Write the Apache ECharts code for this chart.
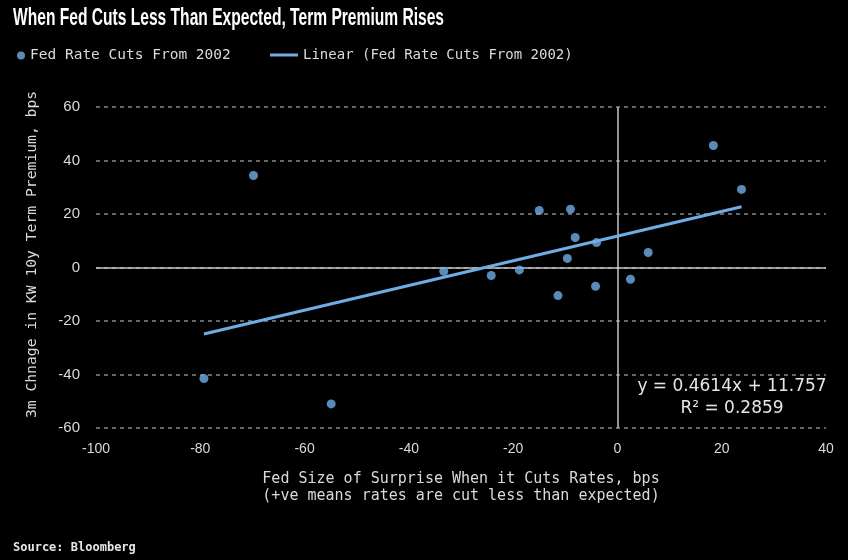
<!DOCTYPE html>
<html>
<head>
<meta charset="utf-8">
<script src="https://cdn.jsdelivr.net/npm/echarts@6/dist/echarts.min.js"></script>
<style>html,body{margin:0;padding:0;background:#000;}#c{width:848px;height:560px;}</style>
</head>
<body>
<div id="c"></div>
<script>
// ---- data ----
const surpriseX = [-79.3, -69.8, -54.9, -33.3, -24.2, -18.8, -15.0, -11.4, -9.6, -9.0, -8.1, -4.2, -4.0, 2.5, 5.9, 18.4, 23.8];
const premiumY  = [-41.5, 34.4, -51.0, -1.4, -3.0, -0.9, 21.3, -10.5, 3.4, 21.8, 11.2, -7.0, 9.3, -4.4, 5.6, 45.6, 29.2];
const trendSlope = 0.4614;
const trendIntercept = 11.757;
const trendR2 = 0.2859;
const xTicks = [-100, -80, -60, -40, -20, 0, 20, 40];
const yTicks = [-60, -40, -20, 0, 20, 40, 60];

const titleText = 'When Fed Cuts Less Than Expected, Term Premium Rises';
const seriesName = 'Fed Rate Cuts From 2002';
const trendName = 'Linear (Fed Rate Cuts From 2002)';
const xName = 'Fed Size of Surprise When it Cuts Rates, bps\n(+ve means rates are cut less than expected)';
const yName = '3m Chnage in KW 10y Term Premium, bps';
const sourceText = 'Source: Bloomberg';

const points = surpriseX.map((x, i) => [x, premiumY[i]]);
const xMinD = Math.min(...surpriseX), xMaxD = Math.max(...surpriseX);
const trend = [[xMinD, trendSlope * xMinD + trendIntercept], [xMaxD, trendSlope * xMaxD + trendIntercept]];

// measure title for condensed look
const cv = document.createElement('canvas').getContext('2d');
cv.font = 'bold 24px "Liberation Sans"';
const titleW = cv.measureText(titleText).width;
const titleScale = 431 / titleW;

const blue = '#70ade6';
const txt = '#dadada';
const mono = '"DejaVu Sans Mono", monospace';

const chart = echarts.init(document.getElementById('c'), null, {renderer: 'canvas'});
chart.setOption({
  backgroundColor: '#000',
  animation: false,
  grid: {left: 96, right: 22, top: 107, bottom: 132},
  legend: [
    {left: 17, top: 48, padding: 0, itemWidth: 8, itemHeight: 8,
     data: [{name: seriesName, icon: 'circle'}],
     textStyle: {color: txt, fontFamily: mono, fontSize: 14.5}},
    {left: 270, top: 48, padding: 0, itemWidth: 28, itemHeight: 3,
     data: [{name: trendName, icon: 'rect'}],
     textStyle: {color: txt, fontFamily: mono, fontSize: 14}}
  ],
  xAxis: {
    type: 'value', min: xTicks[0], max: xTicks[xTicks.length - 1], interval: 20,
    axisLine: {show: false}, axisTick: {show: false}, splitLine: {show: false},
    axisLabel: {color: txt, fontSize: 14, fontFamily: 'Liberation Sans', margin: 14},
    name: xName, nameLocation: 'middle', nameGap: 43,
    nameTextStyle: {color: txt, fontFamily: mono, fontSize: 15, lineHeight: 17}
  },
  yAxis: {
    type: 'value', min: yTicks[0], max: yTicks[yTicks.length - 1], interval: 20,
    axisLine: {show: false}, axisTick: {show: false},
    splitLine: {show: true, lineStyle: {color: '#858585', type: [4, 4], width: 1.5}},
    axisLabel: {color: txt, fontSize: 15, fontFamily: 'Liberation Sans', margin: 16},
    name: yName, nameLocation: 'middle', nameGap: 56,
    nameTextStyle: {color: txt, fontFamily: mono, fontSize: 14.7, padding: [0, 0, 0, 26]}
  },
  series: [
    {
      name: seriesName, type: 'scatter', data: points, symbolSize: 9,
      itemStyle: {color: blue}, z: 5,
      markLine: {
        silent: true, symbol: ['none', 'none'], label: {show: false},
        lineStyle: {color: '#c4c4c4', type: 'solid', width: 1.5},
        data: [{yAxis: 0}, {xAxis: 0}], z: 1
      }
    },
    {
      name: trendName, type: 'line', data: trend, showSymbol: false, symbol: 'none',
      lineStyle: {color: blue, width: 3}, itemStyle: {color: blue}, z: 4
    }
  ],
  graphic: [
    {type: 'text', x: 13, y: 18, scaleX: titleScale,
     style: {text: titleText, fill: '#ffffff', fontSize: 24, fontWeight: 'bold', fontFamily: 'Liberation Sans', verticalAlign: 'middle', align: 'left'}},
    {type: 'text', x: 732, y: 387,
     style: {text: 'y = ' + trendSlope + 'x + ' + trendIntercept, fill: '#e6e6e6', fontSize: 17, fontFamily: 'DejaVu Sans', verticalAlign: 'middle', align: 'center'}},
    {type: 'text', x: 732, y: 409,
     style: {text: 'R² = ' + trendR2, fill: '#e6e6e6', fontSize: 17, fontFamily: 'DejaVu Sans', verticalAlign: 'middle', align: 'center'}},
    {type: 'text', x: 13, y: 548,
     style: {text: sourceText, fill: '#e6e6e6', fontSize: 12, fontWeight: 'bold', fontFamily: mono, verticalAlign: 'middle', align: 'left'}}
  ]
});
</script>
</body>
</html>
